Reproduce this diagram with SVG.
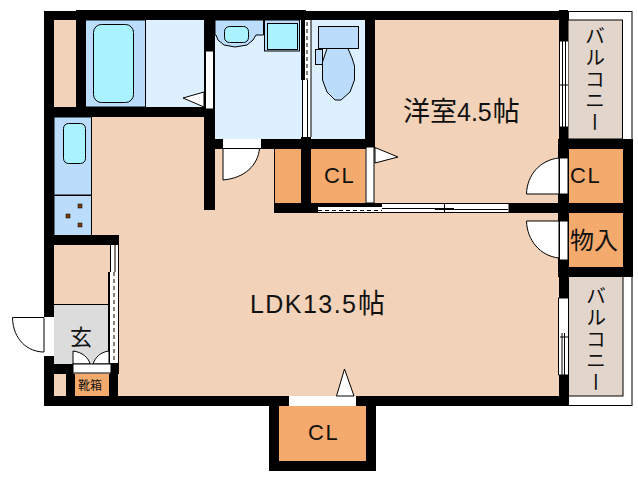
<svg xmlns="http://www.w3.org/2000/svg" width="638" height="480" viewBox="0 0 638 480">
<style>
.w{fill:#000}
.room{fill:#f2d2b8}
.cl{fill:#f4aa6c}
.fix{fill:#bbddfb;stroke:#000;stroke-width:1}
.bowl{fill:#aaf2ff;stroke:#000;stroke-width:1}
.door{fill:#fff;stroke:#000;stroke-width:1}
.open{fill:#fff}
.ln{fill:none;stroke:#000;stroke-width:1}
.dash{fill:none;stroke:#000;stroke-width:1;stroke-dasharray:4 3}
text{fill:#111;font-family:"Liberation Sans","Noto Sans CJK JP",sans-serif}
.cj{font-family:"Noto Sans CJK JP","Liberation Sans",sans-serif}
.v{font-family:"Noto Sans CJK JP",sans-serif;font-size:20px;writing-mode:vertical-rl;letter-spacing:1.5px}
.c{font-size:22px;letter-spacing:1.5px}
</style>
<rect width="638" height="480" fill="#fff"/>
<g id="rooms">
<rect class="room" x="54" y="20" width="22" height="87"/>
<rect class="room" x="54" y="117" width="505" height="279"/>
<rect class="room" x="375" y="20" width="184" height="183"/>
<rect x="215" y="20" width="150" height="129" fill="#dcf0ff"/>
<rect x="86" y="20" width="118" height="87" fill="#dcf0ff"/>
</g>
<g id="balcony-top">
<rect x="568.500" y="11.500" width="63.500" height="128" fill="#fff" stroke="#000"/>
<rect x="568" y="20" width="54.500" height="119" fill="#e2d6cc" stroke="#000"/>
<text class="v" x="595" y="26">バルコニー</text>
</g>
<g id="balcony-bottom">
<rect x="568.500" y="276" width="63.500" height="129.500" fill="#fff" stroke="#000"/>
<rect x="568" y="276" width="55" height="120" fill="#e2d6cc" stroke="#000"/>
<text class="v" x="596" y="286">バルコニー</text>
</g>
<g id="bath">
<rect class="fix" x="85.500" y="20" width="60" height="87"/>
<rect class="bowl" x="93.500" y="24.500" width="40" height="78" rx="8"/>
</g>
<g id="kitchen">
<rect class="fix" x="54" y="117" width="37.500" height="78"/>
<rect class="fix" x="54" y="195.500" width="37.500" height="40"/>
<rect class="bowl" x="63.500" y="123.500" width="22" height="40" rx="5"/>
<rect x="78" y="204" width="4" height="4" fill="#7a3c08" stroke="#000" stroke-width=".5"/>
<rect x="66" y="214" width="4" height="4" fill="#7a3c08" stroke="#000" stroke-width=".5"/>
<rect x="78" y="223" width="4" height="4" fill="#7a3c08" stroke="#000" stroke-width=".5"/>
</g>
<g id="washroom">
<path class="fix" d="M215 20H263.500V35H256L253 40L247 45L235 47L224 45L218 40L216 35H215Z"/>
<rect class="bowl" x="224.500" y="26.500" width="24" height="16" rx="5"/>
<rect x="264.500" y="20" width="35" height="31" fill="#bbddfb" stroke="#000"/>
<rect class="bowl" x="267.500" y="23.500" width="30" height="26"/>
</g>
<g id="toilet">
<rect class="fix" x="318.500" y="26.500" width="40" height="22"/>
<rect class="fix" x="315.500" y="49.500" width="7" height="15"/>
<path class="fix" d="M327 48.500L322.500 62L322.500 80L327 92L335 100H341L350 92L354.500 80V66L352 58L348 48.500Z"/>
</g>
<g id="closets">
<rect class="cl" x="275" y="149" width="26" height="54"/>
<rect class="cl" x="311" y="149" width="54" height="54"/>
<rect class="cl" x="569" y="149" width="54" height="54"/>
<rect class="cl" x="569" y="213" width="54" height="55"/>
<rect class="cl" x="279" y="406" width="87" height="55"/>
<rect class="cl" x="75" y="374" width="34" height="22"/>
</g>
<g id="entry">
<rect x="54" y="304" width="55" height="60" fill="#dcdcdc"/>
<line class="ln" x1="54" y1="304.500" x2="109" y2="304.500"/>
</g>
<g id="walls" class="w">
<rect x="44" y="11" width="10" height="395"/>
<rect x="44" y="11" width="524" height="9"/>
<rect x="76" y="10" width="230" height="10"/>
<rect x="76" y="10" width="10" height="107"/>
<rect x="54" y="107" width="161" height="10"/>
<rect x="204" y="20" width="11" height="190"/>
<rect x="204" y="139" width="171" height="10"/>
<rect x="301" y="20" width="4" height="60"/>
<rect x="301" y="137" width="10" height="75"/>
<rect x="365" y="20" width="10" height="129"/>
<rect x="274" y="149" width="1" height="54"/>
<rect x="274" y="203" width="44" height="10"/>
<rect x="505" y="203" width="128" height="10"/>
<rect x="559" y="10" width="9" height="130"/>
<rect x="558" y="139" width="75" height="10"/>
<rect x="623" y="139" width="10" height="138"/>
<rect x="558" y="139" width="11" height="138"/>
<rect x="558" y="267" width="75" height="10"/>
<rect x="559" y="277" width="10" height="129"/>
<rect x="44" y="396" width="525" height="10"/>
<rect x="54" y="235" width="65" height="10"/>
<rect x="108" y="272" width="2" height="92"/>
<rect x="110" y="363" width="9" height="11"/>
<rect x="54" y="364" width="19" height="10"/>
<rect x="109" y="374" width="9" height="22"/>
<rect x="66" y="374" width="9" height="22"/>
<rect x="269" y="406" width="10" height="65"/>
<rect x="366" y="406" width="10" height="65"/>
<rect x="269" y="461" width="107" height="10"/>
</g>
<g id="openings">
<rect class="door" x="205.500" y="51" width="8" height="58"/>
<rect class="open" x="223" y="139" width="38" height="9"/>
<rect class="door" x="366" y="147" width="8" height="56"/>
<rect class="door" x="559.500" y="158" width="8.500" height="36"/>
<rect class="door" x="559.500" y="221" width="8.500" height="39"/>
<rect class="open" x="44" y="317" width="10" height="39"/>
<rect class="open" x="289" y="396" width="67" height="10"/>
<rect class="open" x="302" y="80" width="9" height="57"/>
<rect class="open" x="305" y="20" width="6" height="60"/>
<path class="ln" d="M302.500 80V137M307.500 80V137M311 20V137"/>
<line class="dash" x1="307" y1="22" x2="307" y2="80"/>
<rect class="open" x="110" y="245" width="9" height="118"/>
<path class="ln" d="M110.500 245V272M115 245V272M118.500 245V363"/>
<line class="dash" x1="114" y1="272" x2="114" y2="363"/>
<rect class="open" x="318" y="203" width="191" height="10"/>
<rect x="318" y="203" width="64" height="4"/>
<path class="ln" d="M318 203.500H509M382 208.500H454M318 212.500H509M435 209.500H508M444.500 204V212M509 203V212"/>
<line class="dash" x1="318" y1="210.500" x2="382" y2="210.500"/>
<rect class="open" x="559.500" y="41" width="8.500" height="86"/>
<path class="ln" d="M559.500 41V127H568M559.500 41H568M562.500 41V127M565.500 41V127M560 85H568"/>
<rect class="open" x="559" y="298" width="9" height="77"/>
<path class="ln" d="M558.500 298V375H568M558.500 298H568M562 333V375M564.500 333V375M560 337H568"/>
</g>
<g id="door-swings">
<path class="door" d="M204 92L183 98L204 107Z"/>
<path class="door" d="M223 180V148.500H259.500C258 165 245 178 223 180Z"/>
<path class="door" d="M375 147.500L398 157L375 163Z"/>
<path class="door" d="M559 158C540 160 527 175 526.500 194H559Z"/>
<path class="door" d="M559 258C540 256 527 240 526.500 221H559Z"/>
<path class="door" d="M44 352C28 352 13 340 12.500 317.500H44Z"/>
<path class="door" d="M336.500 396L344.500 369L354 396Z"/>
<path class="door" d="M73 351V364H90C89 358 82 352 73 351Z"/>
<path class="door" d="M109 351V364H93C95 358 100 352 109 351Z"/>
<rect class="door" x="73" y="364" width="38" height="9"/>
</g>
<g id="labels">
<text class="cj" x="403" y="121" font-size="27">洋室<tspan font-family="Liberation Sans" font-size="25">4.5</tspan><tspan dx="1">帖</tspan></text>
<text x="250" y="313" font-size="25" textLength="106" lengthAdjust="spacing">LDK13.5</text>
<text class="cj" x="358" y="313" font-size="27">帖</text>
<text class="c" x="324" y="183">CL</text>
<text class="c" x="570" y="183">CL</text>
<text class="c" x="308" y="440">CL</text>
<text class="cj" x="570" y="249" font-size="24">物入</text>
<text class="cj" x="81" y="345" font-size="22" text-anchor="middle">玄</text>
<text class="cj" x="90" y="390" font-size="12" text-anchor="middle">靴箱</text>
</g>
</svg>
